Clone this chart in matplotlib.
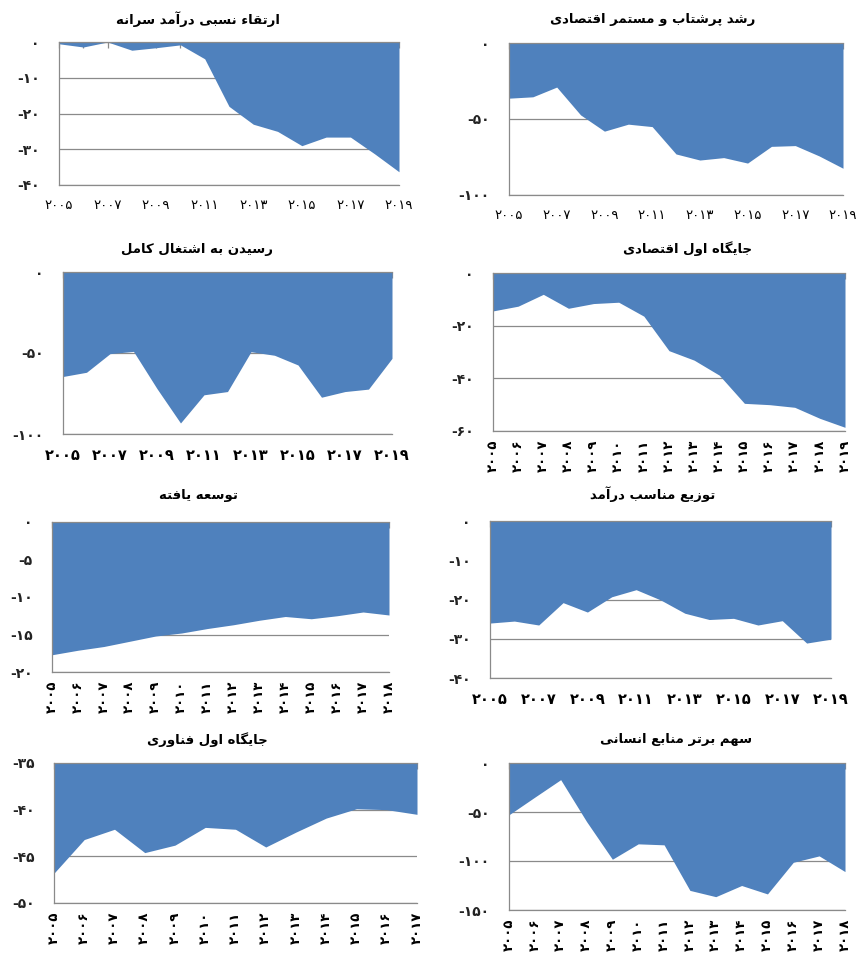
import numpy as np
import matplotlib
matplotlib.use("Agg")
import matplotlib.pyplot as plt

plt.rcParams['font.family'] = ['DejaVu Sans']

# ---------------- data ----------------
years_05_19 = list(range(2005, 2020))
years_05_18 = list(range(2005, 2019))
years_05_17 = list(range(2005, 2018))

title_income = "ارتقاء نسبی درآمد سرانه"
income = [-0.5, -1.4, 0.0, -2.3, -1.6, -0.8, -4.7, -18.0, -23.0, -25.0, -29.0, -26.6, -26.6, -31.3, -36.3]

title_growth = "رشد پرشتاب و مستمر اقتصادی"
growth = [-36.3, -35.4, -29.0, -47.3, -58.0, -53.4, -55.0, -73.0, -77.0, -75.4, -79.0, -68.0, -67.5, -74.3, -82.4]

title_employment = "رسیدن به اشتغال کامل"
employment = [-64.5, -61.9, -50.4, -49.0, -72.0, -93.2, -75.8, -73.8, -49.2, -51.4, -57.4, -77.3, -73.8, -72.3, -53.3]

title_econ_rank = "جایگاه اول اقتصادی"
econ_rank = [-14.4, -12.6, -8.1, -13.4, -11.6, -11.1, -16.4, -29.5, -33.1, -38.8, -49.5, -50.0, -51.0, -55.2, -58.6]

title_developed = "توسعه یافته"
developed = [-17.7, -17.1, -16.6, -15.9, -15.2, -14.8, -14.2, -13.7, -13.1, -12.6, -12.9, -12.5, -12.0, -12.4]

title_distribution = "توزیع مناسب درآمد"
distribution = [-26.0, -25.5, -26.5, -20.8, -23.2, -19.3, -17.5, -20.1, -23.5, -25.1, -24.8, -26.5, -25.4, -31.1, -30.1]

title_tech = "جایگاه اول فناوری"
tech = [-46.8, -43.2, -42.1, -44.6, -43.8, -41.9, -42.1, -44.0, -42.4, -40.9, -39.9, -40.0, -40.5]

title_human = "سهم برتر منابع انسانی"
human = [-52.8, -34.8, -17.0, -59.7, -98.2, -82.5, -83.5, -130.0, -136.4, -125.0, -133.6, -101.3, -94.8, -110.8]

# ---------------- minimal Persian shaping ----------------
FORMS = {
    'ء': ('\uFE80', '\uFE80', '\uFE80', '\uFE80'),
    'آ': ('\uFE81', '\uFE82', None, None),
    'ا': ('\uFE8D', '\uFE8E', None, None),
    'ب': ('\uFE8F', '\uFE90', '\uFE91', '\uFE92'),
    'ت': ('\uFE95', '\uFE96', '\uFE97', '\uFE98'),
    'ج': ('\uFE9D', '\uFE9E', '\uFE9F', '\uFEA0'),
    'د': ('\uFEA9', '\uFEAA', None, None),
    'ر': ('\uFEAD', '\uFEAE', None, None),
    'ز': ('\uFEAF', '\uFEB0', None, None),
    'س': ('\uFEB1', '\uFEB2', '\uFEB3', '\uFEB4'),
    'ش': ('\uFEB5', '\uFEB6', '\uFEB7', '\uFEB8'),
    'ص': ('\uFEB9', '\uFEBA', '\uFEBB', '\uFEBC'),
    'ع': ('\uFEC9', '\uFECA', '\uFECB', '\uFECC'),
    'غ': ('\uFECD', '\uFECE', '\uFECF', '\uFED0'),
    'ف': ('\uFED1', '\uFED2', '\uFED3', '\uFED4'),
    'ق': ('\uFED5', '\uFED6', '\uFED7', '\uFED8'),
    'ل': ('\uFEDD', '\uFEDE', '\uFEDF', '\uFEE0'),
    'م': ('\uFEE1', '\uFEE2', '\uFEE3', '\uFEE4'),
    'ن': ('\uFEE5', '\uFEE6', '\uFEE7', '\uFEE8'),
    'ه': ('\uFEE9', '\uFEEA', '\uFEEB', '\uFEEC'),
    'و': ('\uFEED', '\uFEEE', None, None),
    'پ': ('\uFB56', '\uFB57', '\uFB58', '\uFB59'),
    'ک': ('\uFB8E', '\uFB8F', '\uFB90', '\uFB91'),
    'گ': ('\uFB92', '\uFB93', '\uFB94', '\uFB95'),
    'ی': ('\uFBFC', '\uFBFD', '\uFBFE', '\uFBFF'),
}
DUAL = set('بتجسشصعغفقلمنهپکگی')
JOINABLE = DUAL | set('آادرزو')


def shape(text):
    out = []
    for i, c in enumerate(text):
        if c not in FORMS:
            out.append(c)
            continue
        prev = text[i - 1] if i > 0 else ''
        nxt = text[i + 1] if i + 1 < len(text) else ''
        jp = prev in DUAL and c in JOINABLE
        jn = c in DUAL and nxt in JOINABLE
        iso, fin, ini, med = FORMS[c]
        if jp and jn:
            out.append(med)
        elif jp:
            out.append(fin)
        elif jn:
            out.append(ini)
        else:
            out.append(iso)
    return ''.join(reversed(out))


FA_DIGITS = str.maketrans('0123456789', '۰۱۲۳۴۵۶۷۸۹')


def fa_num(v):
    v = int(round(v))
    s = str(abs(v)).translate(FA_DIGITS)
    return ('-' + s) if v < 0 else s


# ---------------- drawing ----------------
W, H = 862, 960
fig = plt.figure(figsize=(W / 100, H / 100), dpi=100)
FILL = '#4F81BD'
GRID = '#8A8A8A'


def panel(box, title, title_xy, years, values, ymin, ymax, ystep,
          rotated=False, bold_ticks=False):
    l, t, r, b = box
    ax = fig.add_axes([l / W, 1 - b / H, (r - l) / W, (b - t) / H])
    n = len(values)
    x = np.arange(n)
    ax.fill_between(x, ymax, values, color=FILL, lw=0, zorder=2)
    ax.set_xlim(0, n - 1)
    ax.set_ylim(ymin, ymax)
    yt = np.arange(ymin, ymax + 0.001, ystep)
    ax.set_yticks(yt)
    ax.set_yticklabels([fa_num(v) for v in yt])
    ax.set_axisbelow(True)
    ax.yaxis.grid(True, color=GRID, lw=0.9)
    ax.spines['right'].set_visible(False)
    for s in ['left', 'top', 'bottom']:
        ax.spines[s].set_color(GRID)
        ax.spines[s].set_linewidth(0.9)
    ax.spines['top'].set_zorder(3)
    ax.set_xticks(x)
    fw = 'bold' if bold_ticks else 'normal'
    if rotated:
        labels = [str(y).translate(FA_DIGITS) for y in years]
        ax.set_xticklabels(labels, rotation=90, fontsize=9.5, fontweight='bold')
    else:
        labels = [str(y).translate(FA_DIGITS) if (y - years[0]) % 2 == 0 else ''
                  for y in years]
        ax.set_xticklabels(labels, fontsize=10.5 if bold_ticks else 9.5, fontweight=fw)
    ax.tick_params(axis='x', top=True, bottom=False, labeltop=False,
                   labelbottom=True, direction='in', length=4, width=0.9,
                   color=GRID, pad=10 if not rotated else 6)
    ax.tick_params(axis='y', length=0, pad=14, labelsize=10, labelcolor='#222222')
    for lab in ax.get_yticklabels():
        lab.set_fontweight('bold')
    fig.text(title_xy[0] / W, 1 - title_xy[1] / H, shape(title),
             ha='center', va='center', fontsize=9.5, fontweight='bold')
    return ax


panel((59, 42, 399, 185), title_income, (198, 19), years_05_19, income, -40, 0, 10)
panel((509, 43, 843, 195), title_growth, (653, 19), years_05_19, growth, -100, 0, 50)
panel((63, 272, 392, 434), title_employment, (197, 249), years_05_19, employment, -100, 0, 50,
      bold_ticks=True)
panel((493, 273, 845, 431), title_econ_rank, (688, 249), years_05_19, econ_rank, -60, 0, 20,
      rotated=True)
panel((52, 522, 389, 672), title_developed, (198, 495), years_05_18, developed, -20, 0, 5,
      rotated=True)
panel((490, 521, 831, 678), title_distribution, (653, 494), years_05_19, distribution, -40, 0, 10,
      bold_ticks=True)
panel((54, 763, 417, 903), title_tech, (207, 740), years_05_17, tech, -50, -35, 5,
      rotated=True)
panel((509, 763, 845, 910), title_human, (676, 740), years_05_18, human, -150, 0, 50,
      rotated=True)

fig.savefig('out.png', dpi=100)
